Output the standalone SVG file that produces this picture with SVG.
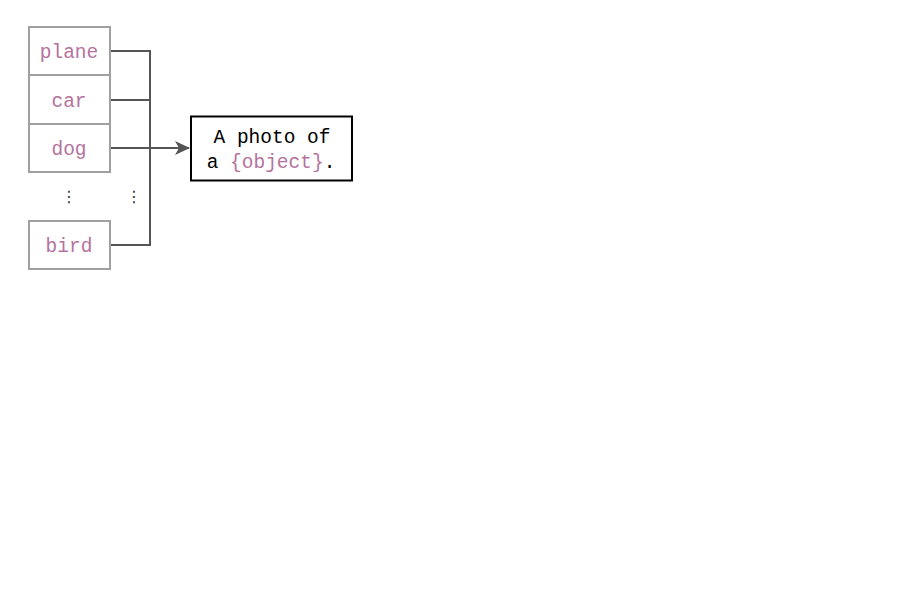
<svg xmlns="http://www.w3.org/2000/svg" width="900" height="613" viewBox="0 0 900 613">
<defs>
<style>
.item rect{fill:#fff;stroke:#a0a0a0;stroke-width:2}
.lbl{font-family:"Liberation Mono",monospace;font-size:19.5px;fill:#b5739d;text-anchor:middle}
.blk{font-family:"Liberation Mono",monospace;font-size:19.5px;fill:#000}
.conn{fill:none;stroke:#555;stroke-width:2}
.dots{font-family:"DejaVu Sans",sans-serif;font-size:16px;fill:#333;text-anchor:middle}
</style>
<marker id="arr" viewBox="0 0 15 15" refX="14" refY="7.5" markerWidth="15" markerHeight="15" markerUnits="userSpaceOnUse" orient="auto">
<path d="M0,0.5 L15,7.5 L0,14.5 L4,7.5 Z" fill="#555"/>
</marker>
</defs>
<rect width="900" height="613" fill="#fff"/>
<g id="connectors">
<path class="conn" d="M110,51 H150 V245 H110"/>
<path class="conn" d="M110,100 H150"/>
<path class="conn" d="M110,148 H189" marker-end="url(#arr)"/>
</g>
<g id="plane" class="item"><rect x="29" y="27" width="81" height="48"/><text class="lbl" x="69" y="58">plane</text></g>
<g id="car" class="item"><rect x="29" y="75" width="81" height="49"/><text class="lbl" x="69" y="107">car</text></g>
<g id="dog" class="item"><rect x="29" y="124" width="81" height="48"/><text class="lbl" x="69" y="155">dog</text></g>
<g id="ellipsis"><text class="dots" x="69" y="202">⋮</text><text class="dots" x="134" y="202">⋮</text></g>
<g id="bird" class="item"><rect x="29" y="221" width="81" height="48"/><text class="lbl" x="69" y="252">bird</text></g>
<g id="template">
<rect x="191" y="116.5" width="161" height="64" fill="#fff" stroke="#000" stroke-width="2"/>
<text class="blk" text-anchor="middle" x="272" y="143">A photo of</text>
<text class="blk" text-anchor="middle" x="271" y="168">a <tspan fill="#b5739d">{object}</tspan>.</text>
</g>
</svg>
